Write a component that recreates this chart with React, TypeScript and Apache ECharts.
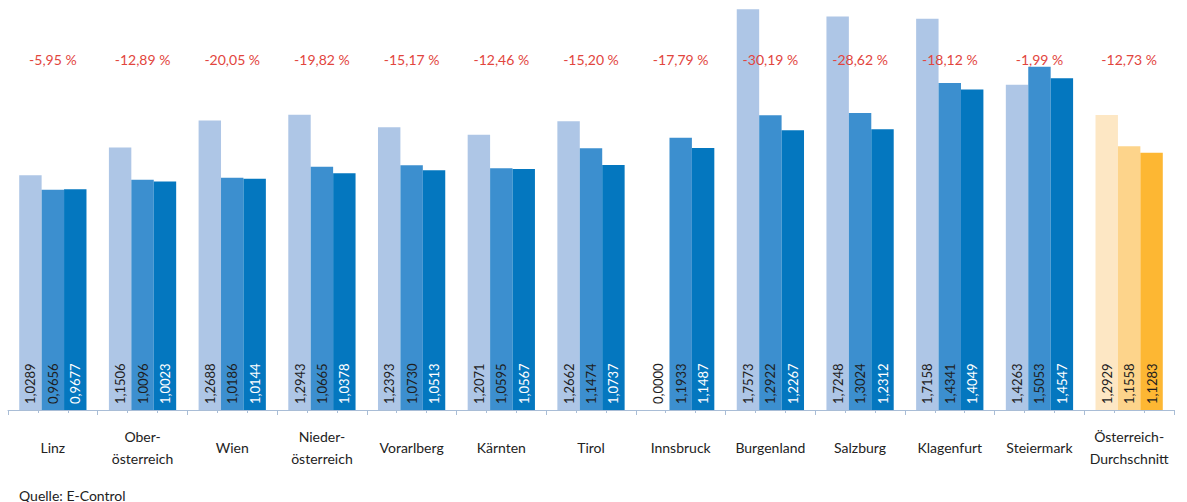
import React, { useEffect, useRef } from "react";
import * as echarts from "echarts";

const categories = [
  "Linz",
  "Ober-\nösterreich",
  "Wien",
  "Nieder-\nösterreich",
  "Vorarlberg",
  "Kärnten",
  "Tirol",
  "Innsbruck",
  "Burgenland",
  "Salzburg",
  "Klagenfurt",
  "Steiermark",
  "Österreich-\nDurchschnitt",
];

const series1 = [1.0289, 1.1506, 1.2688, 1.2943, 1.2393, 1.2071, 1.2662, 0.0, 1.7573, 1.7248, 1.7158, 1.4263, 1.2929];
const series2 = [0.9656, 1.0096, 1.0186, 1.0665, 1.073, 1.0595, 1.1474, 1.1933, 1.2922, 1.3024, 1.4341, 1.5053, 1.1558];
const series3 = [0.9677, 1.0023, 1.0144, 1.0378, 1.0513, 1.0567, 1.0737, 1.1487, 1.2267, 1.2312, 1.4049, 1.4547, 1.1283];

const percentLabels = [
  "-5,95 %",
  "-12,89 %",
  "-20,05 %",
  "-19,82 %",
  "-15,17 %",
  "-12,46 %",
  "-15,20 %",
  "-17,79 %",
  "-30,19 %",
  "-28,62 %",
  "-18,12 %",
  "-1,99 %",
  "-12,73 %",
];

const blueColors = ["#AEC6E6", "#3C8FCF", "#0477BF"];
const orangeColors = ["#FDE7C4", "#FDD48B", "#FDB733"];
const labelColors = ["#1e1e1e", "#1e1e1e", "#ffffff"];
const highlightIndex = categories.length - 1;

const FONT = "Lato, 'Open Sans', sans-serif";

function fmt(v: number) {
  return v.toFixed(4).replace(".", ",");
}

export default function App() {
  const ref = useRef<HTMLDivElement>(null);
  useEffect(() => {
    document.body.style.margin = "0";
    if (!ref.current) return;
    const chart = echarts.init(ref.current, undefined, { renderer: "svg" });
    const all = [series1, series2, series3];
    const minorTicks: string[] = [];
    for (let i = 0; i < categories.length * 3; i++) minorTicks.push("");
    const axisColor = "#A9BDD6";
    chart.setOption({
      animation: false,
      textStyle: { fontFamily: FONT },
      title: {
        text: "Quelle: E-Control",
        left: 14,
        top: 483,
        textStyle: { fontSize: 14, fontWeight: "normal", color: "#222", fontFamily: FONT },
      },
      grid: { left: 8, right: 13, top: 4, bottom: 92, containLabel: false },
      xAxis: [
        {
          type: "category",
          data: categories,
          position: "bottom",
          axisLine: { show: true, lineStyle: { color: axisColor, width: 1 } },
          axisTick: { show: true, length: 5, lineStyle: { color: axisColor } },
          axisLabel: {
            interval: 0,
            fontSize: 14,
            color: "#222",
            fontFamily: FONT,
            lineHeight: 22,
            margin: 37,
            verticalAlign: "middle",
          },
        },
        {
          type: "category",
          data: minorTicks,
          position: "bottom",
          axisLine: { show: false },
          axisTick: { show: true, length: 3, interval: 0, lineStyle: { color: axisColor } },
          axisLabel: { show: false },
        },
        {
          type: "category",
          data: percentLabels,
          position: "top",
          z: 10,
          axisLine: { show: false },
          axisTick: { show: false },
          axisLabel: {
            interval: 0,
            fontSize: 14,
            color: "#E2453D",
            fontFamily: FONT,
            margin: -55,
            verticalAlign: "middle",
          },
        },
      ],
      yAxis: { type: "value", min: 0, max: 1.78, show: false, splitLine: { show: false } },
      series: all.map((arr, si) => ({
        type: "bar",
        xAxisIndex: 0,
        barGap: "0%",
        barCategoryGap: "25%",
        z: 2,
        data: arr.map((v, i) => {
          const d: any = {
            value: v,
            itemStyle: { color: i === highlightIndex ? orangeColors[si] : blueColors[si] },
          };
          if (i === highlightIndex) d.label = { color: "#1e1e1e" };
          return d;
        }),
        label: {
          show: true,
          position: "insideBottom",
          rotate: 90,
          align: "left",
          verticalAlign: "middle",
          distance: 6,
          fontSize: 13,
          color: labelColors[si],
          fontFamily: FONT,
          formatter: (p: any) => fmt(p.value),
        },
      })),
    });
    return () => chart.dispose();
  }, []);
  return <div ref={ref} style={{ width: 1187, height: 502 }} />;
}
